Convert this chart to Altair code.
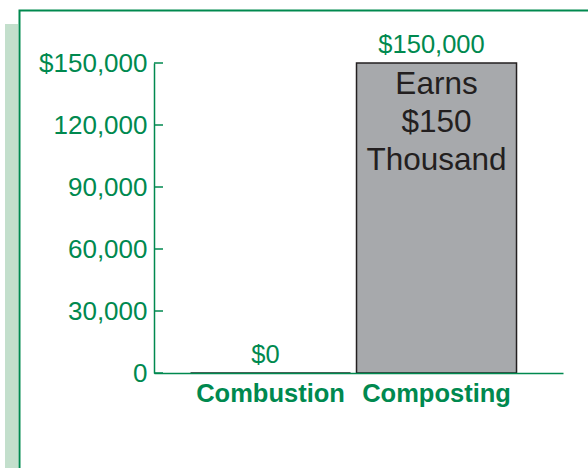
import altair as alt
import pandas as pd

categories = ["Combustion", "Composting"]
values = [0, 150000]
value_labels = ["$0", "$150,000"]
inner_labels = ["", "Earns\n$150\nThousand"]
y_ticks = [0, 30000, 60000, 90000, 120000, 150000]

GREEN = "#00894f"
LIGHT_GREEN = "#c3dfcc"
BAR_FILL = "#a7a9ac"
DARK = "#231f20"
FONT = "Liberation Sans"

df = pd.DataFrame({"category": categories, "value": values,
                   "label": value_labels, "inner": inner_labels})
ticks_df = pd.DataFrame({"tick": y_ticks})

W, H = 409, 310
PAD = {"left": 154, "top": 63, "right": 588 - 154 - W, "bottom": 468 - 63 - H}

x_enc = alt.X(
    "category:N", sort=categories,
    scale=alt.Scale(paddingInner=0.036, paddingOuter=0.25, align=0.44),
    axis=alt.Axis(title=None, labelAngle=0, labelFont=FONT, labelFontSize=25.5,
                  labelFontWeight="bold", labelColor=GREEN, domainColor=GREEN,
                  domainWidth=1.5, ticks=False, labelPadding=8, zindex=1),
)
y_enc = alt.Y(
    "value:Q",
    scale=alt.Scale(domain=[0, 150000], nice=False),
    axis=alt.Axis(title=None, values=y_ticks, grid=False, ticks=False,
                  domainColor=GREEN, domainWidth=1.5, labelColor=GREEN,
                  labelFont=FONT, labelFontSize=26, labelPadding=7, zindex=1,
                  labelExpr="datum.value == 150000 ? '$150,000' : format(datum.value, ',')"),
)

base = alt.Chart(df)

frame_data = alt.Data(values=[{}])
strip = alt.Chart(frame_data).mark_rect(fill=LIGHT_GREEN).encode(
    x=alt.value(-149), x2=alt.value(-136), y=alt.value(-39), y2=alt.value(420))
frame = alt.Chart(frame_data).mark_rect(fill="white", stroke=GREEN, strokeWidth=2).encode(
    x=alt.value(-134.5), x2=alt.value(460), y=alt.value(-52.5), y2=alt.value(420))

bars = base.mark_bar(fill=BAR_FILL, stroke=DARK, strokeWidth=1.5).encode(x=x_enc, y=y_enc)

tick_rules = alt.Chart(ticks_df).mark_rule(color=GREEN, strokeWidth=1.5).encode(
    y=alt.Y("tick:Q"), x=alt.value(0), x2=alt.value(9))

value_text = base.mark_text(baseline="alphabetic", dy=-10, dx=-5, color=GREEN,
                            font=FONT, fontSize=25.5).encode(
    x=alt.X("category:N", sort=categories), y=alt.Y("value:Q"), text="label:N")

inner_text = base.mark_text(baseline="alphabetic", dy=31, lineBreak="\n",
                            lineHeight=38, color=DARK, font=FONT,
                            fontSize=31.5).encode(
    x=alt.X("category:N", sort=categories), y=alt.Y("value:Q"), text="inner:N")

chart = alt.layer(frame, strip, bars, tick_rules, value_text, inner_text).properties(
    width=W, height=H, padding=PAD, autosize=alt.AutoSizeParams(type="none"),
    background="white",
).configure_view(stroke=None)

chart.save("out.html", embed_options={"renderer": "svg", "actions": False})
